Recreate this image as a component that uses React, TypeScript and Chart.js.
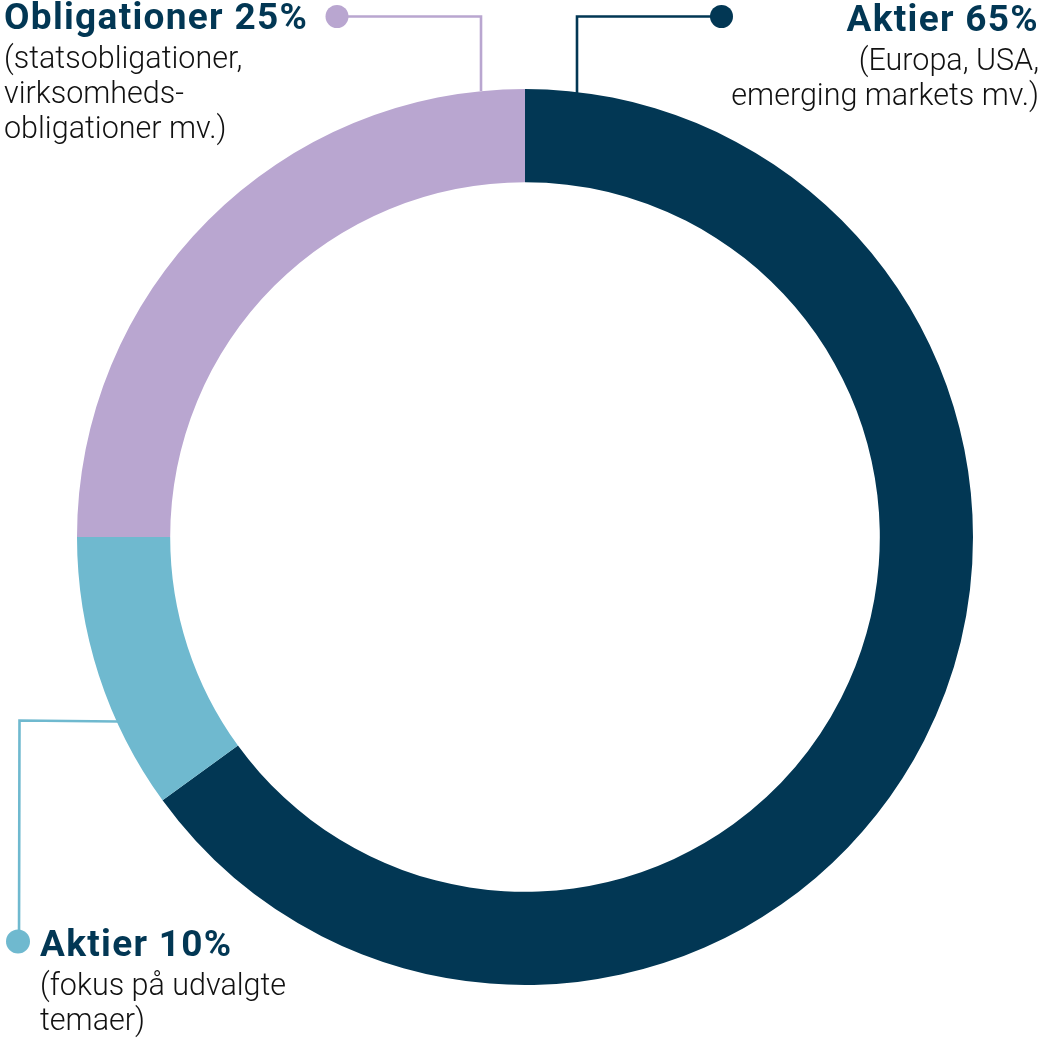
import React, { useEffect, useRef } from "react";
import { Chart, registerables } from "chart.js";

Chart.register(...registerables);

// ---- data ----
const categories = ["Aktier", "Aktier", "Obligationer"];
const values = [65, 10, 25];
const colors = ["#023754", "#6fb9cf", "#b9a6d0"];
const descriptions = [
  ["(Europa, USA,", "emerging markets mv.)"],
  ["(fokus på udvalgte", "temaer)"],
  ["(statsobligationer,", "virksomheds-", "obligationer mv.)"],
];

const NAVY = "#023754";
const FONT = "Roboto, 'Noto Sans', sans-serif";

function Label({ idx, style, align }: { idx: number; style: React.CSSProperties; align: "left" | "right" }) {
  return (
    <div style={{ position: "absolute", textAlign: align, whiteSpace: "nowrap", fontFamily: FONT, ...style }}>
      <div style={{ fontSize: 37, lineHeight: "40px", fontWeight: 700, color: NAVY, letterSpacing: 1.3 }}>
        {categories[idx]} {values[idx]}%
      </div>
      <div style={{ fontSize: 30.5, lineHeight: "35px", fontWeight: 300, color: "#111", marginTop: 3 }}>
        {descriptions[idx].map((l, i) => (
          <div key={i}>{l}</div>
        ))}
      </div>
    </div>
  );
}

export default function App() {
  const ref = useRef<HTMLCanvasElement | null>(null);
  useEffect(() => {
    if (!ref.current) return;
    const chart = new Chart(ref.current, {
      type: "doughnut",
      data: {
        labels: categories.map((c, i) => `${c} ${values[i]}%`),
        datasets: [
          {
            data: values,
            backgroundColor: colors,
            borderWidth: 0,
            hoverOffset: 0,
            offset: 0,
          },
        ],
      },
      options: {
        responsive: false,
        maintainAspectRatio: false,
        animation: false,
        cutout: "79.2%",
        layout: { padding: { left: 77, right: 69, top: 89, bottom: 57 } },
        plugins: {
          legend: { display: false },
          tooltip: { enabled: false },
        },
      },
    });
    return () => chart.destroy();
  }, []);

  return (
    <div style={{ position: "absolute", left: 0, top: 0, width: 1042, height: 1042, background: "#fff" }}>
      <canvas ref={ref} width={1042} height={1042} style={{ position: "absolute", left: 0, top: 0, display: "block" }} />
      <svg width={1042} height={1042} style={{ position: "absolute", left: 0, top: 0 }}>
        <polyline points="337,16.5 481,16.5 481,91" fill="none" stroke={colors[2]} strokeWidth={2.6} />
        <circle cx={337} cy={16.5} r={11.5} fill={colors[2]} />
        <polyline points="721,16.5 577,16.5 577,93" fill="none" stroke={colors[0]} strokeWidth={2.6} />
        <circle cx={721.5} cy={16.5} r={11.5} fill={colors[0]} />
        <polyline points="19,941 19.5,720.5 118,721.5" fill="none" stroke={colors[1]} strokeWidth={2.6} />
        <circle cx={18} cy={941.5} r={12} fill={colors[1]} />
      </svg>
      <Label idx={2} align="left" style={{ left: 4, top: -3 }} />
      <Label idx={0} align="right" style={{ right: 3, top: -1 }} />
      <Label idx={1} align="left" style={{ left: 40, top: 924 }} />
    </div>
  );
}
